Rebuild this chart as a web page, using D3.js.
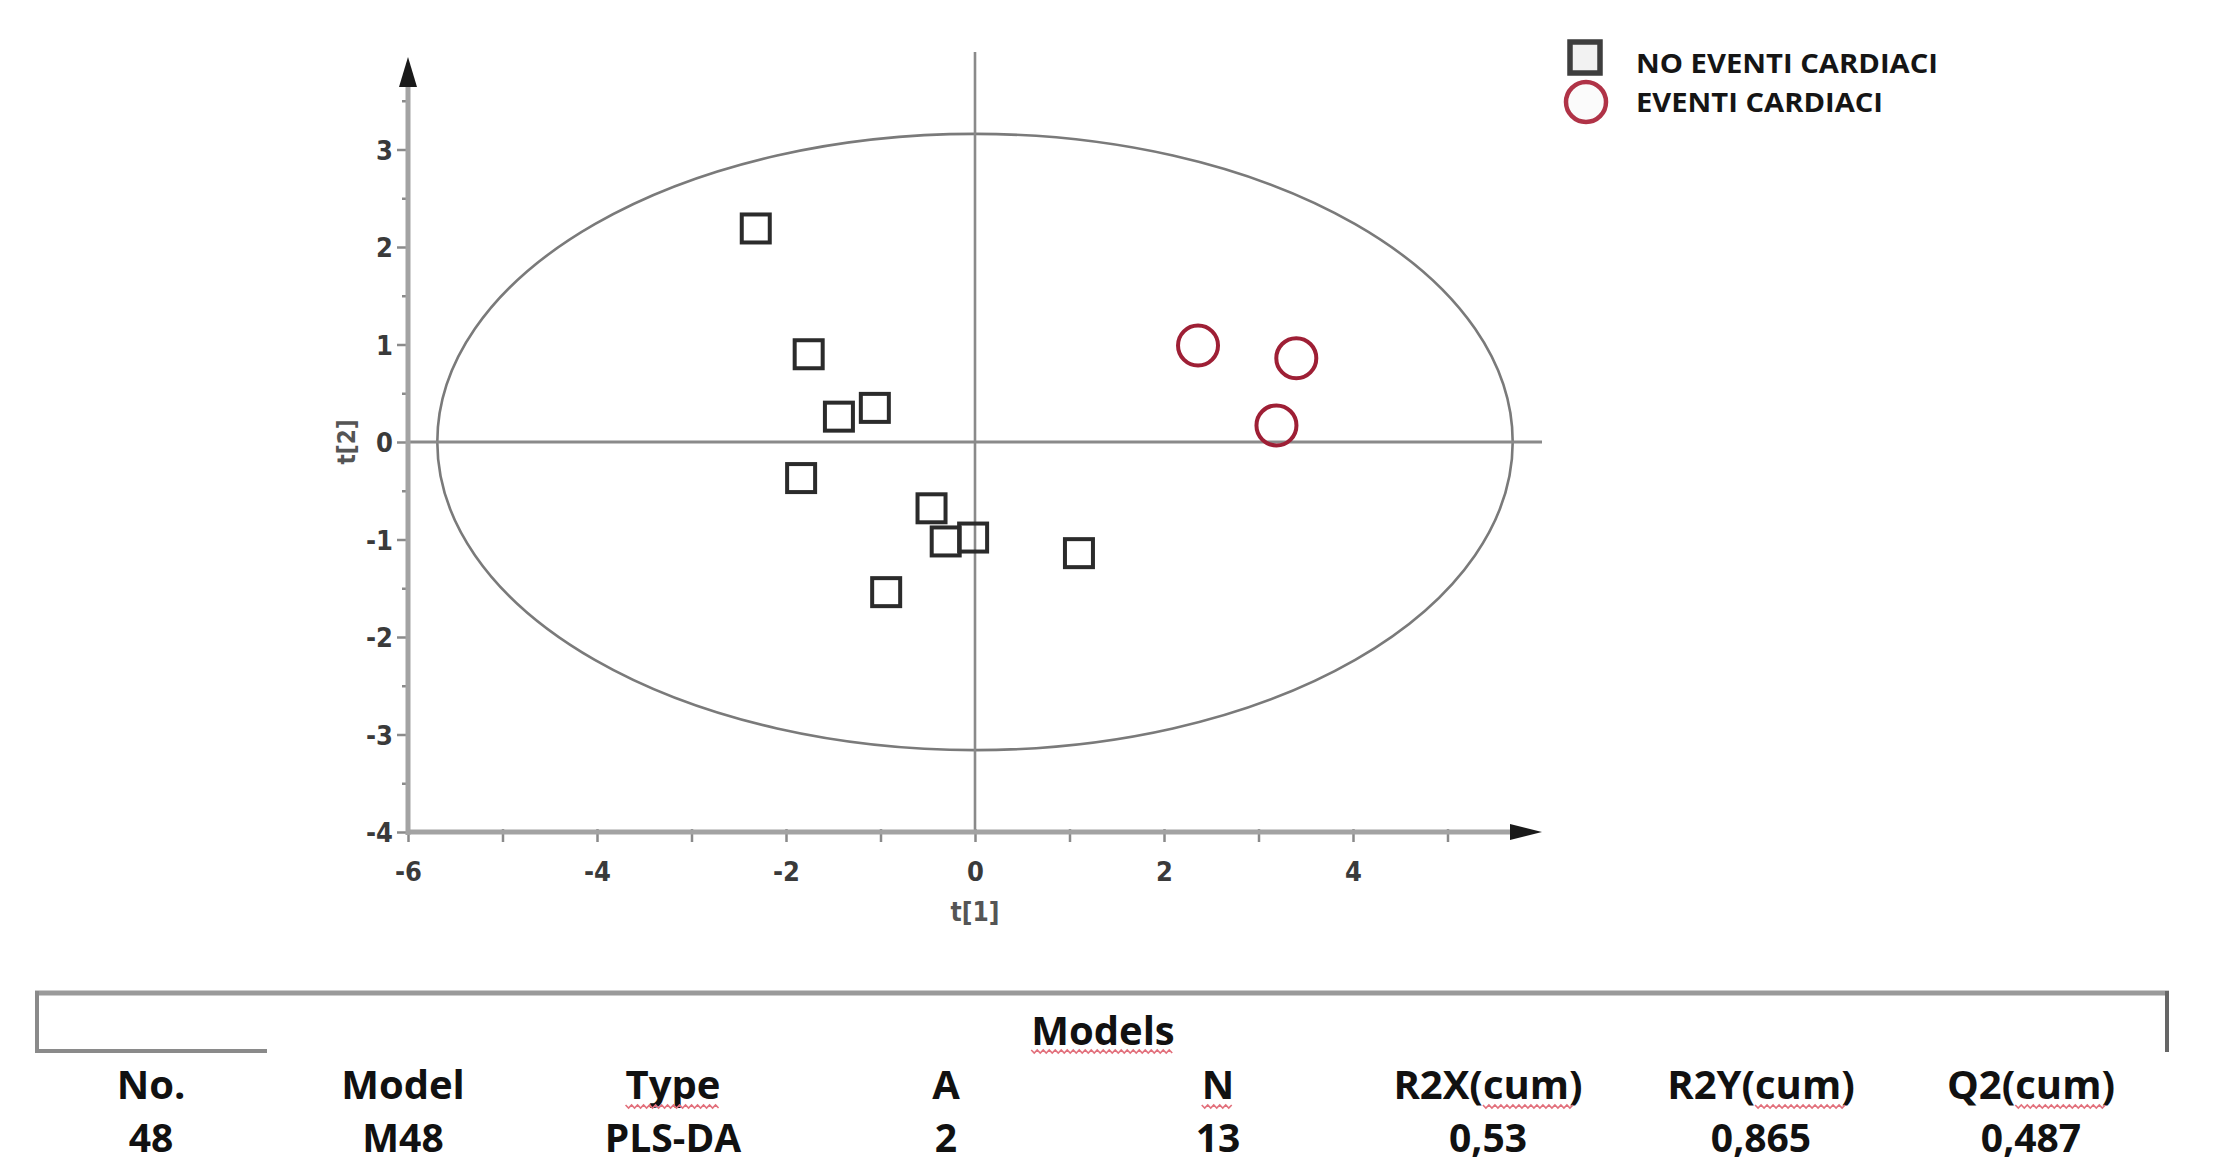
<!DOCTYPE html>
<html><head><meta charset="utf-8">
<script src="https://cdn.jsdelivr.net/npm/d3@7"></script>
<style>body{margin:0;background:#fff}</style>
</head><body>
<svg id="chart" width="2215" height="1165"></svg>
<script>
// ---- data ----
const noEventiX = [-2.32, -1.76, -1.44, -1.06, -1.84, -0.46, -0.31, -0.02, -0.94, 1.10];
const noEventiY = [2.19, 0.90, 0.26, 0.35, -0.37, -0.68, -1.02, -0.98, -1.54, -1.14];
const eventiX = [2.36, 3.40, 3.19];
const eventiY = [0.99, 0.86, 0.17];
const xTicks = [-6, -5, -4, -3, -2, -1, 0, 1, 2, 3, 4, 5];
const xTickLabels = [-6, -4, -2, 0, 2, 4];
const yTicks = [-4, -3.5, -3, -2.5, -2, -1.5, -1, -0.5, 0, 0.5, 1, 1.5, 2, 2.5, 3, 3.5];
const yTickLabels = [-4, -3, -2, -1, 0, 1, 2, 3];
const ellipseRadii = [5.69, 3.16];
const xLabel = "t[1]";
const yLabel = "t[2]";
const legendLabels = ["NO EVENTI CARDIACI", "EVENTI CARDIACI"];
const tableTitle = "Models";
const tableHeaders = ["No.", "Model", "Type", "A", "N", "R2X(cum)", "R2Y(cum)", "Q2(cum)"];
const tableValues = ["48", "M48", "PLS-DA", "2", "13", "0,53", "0,865", "0,487"];

// ---- layout ----
const svg = d3.select("#chart");
const x = d3.scaleLinear().domain([-6, 6]).range([408, 1542]);
const y = d3.scaleLinear().domain([-4, 0]).range([832, 442]);
const narrow = "'Liberation Sans Narrow','DejaVu Sans Condensed','Liberation Sans',sans-serif";

// ellipse
svg.append("ellipse")
  .attr("cx", x(0)).attr("cy", y(0))
  .attr("rx", x(ellipseRadii[0]) - x(0)).attr("ry", y(0) - y(ellipseRadii[1]))
  .attr("fill", "none").attr("stroke", "#7a7a7a").attr("stroke-width", 2.6);

// crosshair
svg.append("line").attr("x1", x(0)).attr("x2", x(0)).attr("y1", y(-4)).attr("y2", y(4.0))
  .attr("stroke", "#8a8a8a").attr("stroke-width", 2.6);
svg.append("line").attr("x1", x(-6)).attr("x2", x(6)).attr("y1", y(0)).attr("y2", y(0))
  .attr("stroke", "#8a8a8a").attr("stroke-width", 3.2);

// x axis
const gx = svg.append("g").attr("transform", `translate(0,${y(-4)})`)
  .call(d3.axisBottom(x).tickValues(xTicks).tickSize(10)
    .tickFormat(d => xTickLabels.includes(d) ? String(d) : ""));
gx.select(".domain").remove();
gx.selectAll(".tick line").attr("y1", -3).attr("y2", 10).attr("stroke", "#8a8a8a").attr("stroke-width", 2.5);
gx.selectAll(".tick text").attr("y", 49).attr("dy", 0)
  .attr("font-family", narrow).attr("font-weight", "bold").attr("font-size", 27).attr("fill", "#3a3a3a");

// y axis
const gy = svg.append("g").attr("transform", `translate(${x(-6)},0)`)
  .call(d3.axisLeft(y).tickValues(yTicks).tickSize(10)
    .tickFormat(d => yTickLabels.includes(d) ? String(d) : ""));
gy.select(".domain").remove();
gy.selectAll(".tick line")
  .attr("x1", d => Number.isInteger(d) ? -11 : -6).attr("x2", 0)
  .attr("stroke", "#8a8a8a").attr("stroke-width", 2.5);
gy.selectAll(".tick text").attr("x", -15).attr("dy", "0.36em")
  .attr("font-family", narrow).attr("font-weight", "bold").attr("font-size", 27).attr("fill", "#3a3a3a");

// thick axis lines and arrows
svg.append("line").attr("x1", x(-6)).attr("x2", x(6) - 20).attr("y1", y(-4)).attr("y2", y(-4))
  .attr("stroke", "#a3a3a3").attr("stroke-width", 5);
svg.append("line").attr("x1", x(-6)).attr("x2", x(-6)).attr("y1", y(-4) + 3).attr("y2", y(3.95) + 20)
  .attr("stroke", "#a3a3a3").attr("stroke-width", 5);
svg.append("path")
  .attr("d", `M${x(6)},${y(-4)} L${x(6) - 32},${y(-4) - 8} L${x(6) - 32},${y(-4) + 8} Z`)
  .attr("fill", "#1a1a1a");
svg.append("path")
  .attr("d", `M${x(-6)},${y(3.95)} L${x(-6) - 9},${y(3.95) + 30} L${x(-6) + 9},${y(3.95) + 30} Z`)
  .attr("fill", "#1a1a1a");

// axis titles
svg.append("text").attr("x", x(0)).attr("y", 921).attr("text-anchor", "middle")
  .attr("font-family", narrow).attr("font-weight", "bold").attr("font-size", 26).attr("fill", "#555")
  .text(xLabel);
svg.append("text").attr("transform", `translate(355,${y(0)}) rotate(-90)`).attr("text-anchor", "middle")
  .attr("font-family", narrow).attr("font-weight", "bold").attr("font-size", 24).attr("fill", "#555")
  .text(yLabel);

// points
const sq = 28;
svg.append("g").selectAll("rect").data(noEventiX.map((v, i) => [v, noEventiY[i]])).join("rect")
  .attr("x", d => x(d[0]) - sq / 2).attr("y", d => y(d[1]) - sq / 2)
  .attr("width", sq).attr("height", sq)
  .attr("fill", "none").attr("stroke", "#2b2b2b").attr("stroke-width", 4);
svg.append("g").selectAll("circle").data(eventiX.map((v, i) => [v, eventiY[i]])).join("circle")
  .attr("cx", d => x(d[0])).attr("cy", d => y(d[1])).attr("r", 20)
  .attr("fill", "none").attr("stroke", "#9e1f35").attr("stroke-width", 4);

// legend
svg.append("rect").attr("x", 1570).attr("y", 42).attr("width", 30).attr("height", 31)
  .attr("fill", "#f2f2f2").attr("stroke", "#3e3e3e").attr("stroke-width", 5.5);
svg.append("circle").attr("cx", 1586).attr("cy", 102).attr("r", 20)
  .attr("fill", "#fbfbfb").attr("stroke", "#b03347").attr("stroke-width", 4.5);
const legFont = "'Open Sans',sans-serif";
svg.append("text").attr("x", 1636).attr("y", 73).attr("font-family", legFont).attr("font-weight", 700)
  .attr("font-size", 27).attr("fill", "#151515").attr("textLength", 302).attr("lengthAdjust", "spacingAndGlyphs")
  .text(legendLabels[0]);
svg.append("text").attr("x", 1636).attr("y", 112).attr("font-family", legFont).attr("font-weight", 700)
  .attr("font-size", 27).attr("fill", "#151515").attr("textLength", 247).attr("lengthAdjust", "spacingAndGlyphs")
  .text(legendLabels[1]);

// ---- table ----
const tFont = "'Open Sans',sans-serif";
const tg = svg.append("g");
tg.append("line").attr("x1", 35).attr("x2", 2169).attr("y1", 993).attr("y2", 993).attr("stroke", "#9a9a9a").attr("stroke-width", 5);
tg.append("line").attr("x1", 37).attr("x2", 37).attr("y1", 991).attr("y2", 1052).attr("stroke", "#8a8a8a").attr("stroke-width", 4);
tg.append("line").attr("x1", 35).attr("x2", 267).attr("y1", 1051).attr("y2", 1051).attr("stroke", "#8a8a8a").attr("stroke-width", 4);
tg.append("line").attr("x1", 2167).attr("x2", 2167).attr("y1", 991).attr("y2", 1052).attr("stroke", "#666").attr("stroke-width", 4);

const colX = [151, 403, 673, 946, 1218, 1488, 1761, 2031];

function squiggle(x1, x2, yy) {
  let p = `M${x1},${yy}`;
  let up = true;
  for (let xx = x1 + 3; xx <= x2; xx += 3) { p += ` L${xx},${up ? yy + 3 : yy}`; up = !up; }
  tg.append("path").attr("d", p).attr("fill", "none").attr("stroke", "#e2707c").attr("stroke-width", 1.6);
}

const title = tg.append("text").attr("x", 1103).attr("y", 1045).attr("text-anchor", "middle")
  .attr("font-family", tFont).attr("font-weight", 700).attr("font-size", 40).attr("fill", "#111").text(tableTitle);
{
  const bb = title.node().getBBox();
  squiggle(bb.x, bb.x + bb.width, 1050);
}

tableHeaders.forEach((h, i) => {
  const t = tg.append("text").attr("x", colX[i]).attr("y", 1099).attr("text-anchor", "middle")
    .attr("font-family", tFont).attr("font-weight", 700).attr("font-size", 40).attr("fill", "#111").text(h);
  const node = t.node();
  const bb = node.getBBox();
  if (h === "Type" || h === "N") squiggle(bb.x, bb.x + bb.width, 1105);
  const k = h.indexOf("(cum)");
  if (k >= 0) {
    const startOff = node.getSubStringLength(0, k + 1);
    const w = node.getSubStringLength(k + 1, 3);
    squiggle(bb.x + startOff, bb.x + startOff + w + 4, 1105);
  }
});
tableValues.forEach((v, i) => {
  tg.append("text").attr("x", colX[i]).attr("y", 1152).attr("text-anchor", "middle")
    .attr("font-family", tFont).attr("font-weight", 700).attr("font-size", 39).attr("fill", "#111").text(v);
});
</script>
</body></html>
